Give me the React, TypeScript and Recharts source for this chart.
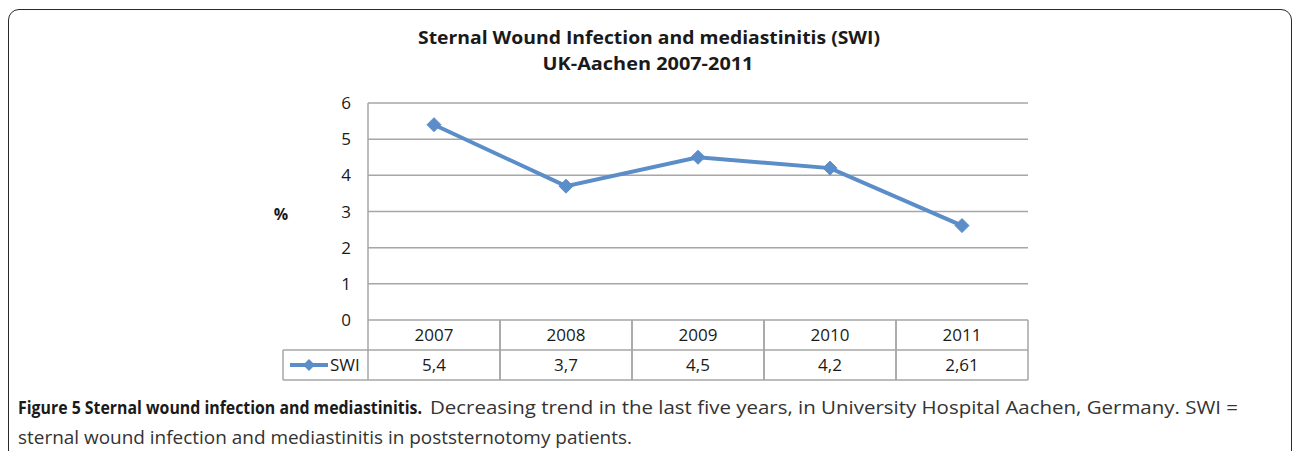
import React from 'react';
import { LineChart, Line, XAxis, YAxis, CartesianGrid } from 'recharts';

const categories = ['2007', '2008', '2009', '2010', '2011'];
const swiValues = [5.4, 3.7, 4.5, 4.2, 2.61];
const swiLabels = ['5,4', '3,7', '4,5', '4,2', '2,61'];
const yTicks = [0, 1, 2, 3, 4, 5, 6];
const seriesName = 'SWI';

const titleLines = ['Sternal Wound Infection and mediastinitis (SWI)', 'UK-Aachen 2007-2011'];
const captionBold = 'Figure 5 Sternal wound infection and mediastinitis.';
const captionRest1 = 'Decreasing trend in the last five years, in University Hospital Aachen, Germany. SWI =';
const captionRest2 = 'sternal wound infection and mediastinitis in poststernotomy patients.';

const data = categories.map((c, i) => ({ year: c, swi: swiValues[i], label: swiLabels[i] }));

const LINE_COLOR = '#5B8DC8';
const GRID_COLOR = '#A6A6A6';
const FONT = '"Open Sans", "DejaVu Sans", sans-serif';

const W = 1292;
const H = 451;
const PLOT_LEFT = 368;
const PLOT_RIGHT = 1028;
const PLOT_TOP = 103;
const PLOT_BOTTOM = 320;
const TABLE_H = 60;
const Y_AXIS_W = 40;
const PAD = 66;
const LEGEND_W = 85;
const TICK_FS = 17;

const bandW = (PLOT_RIGHT - PLOT_LEFT - 2 * PAD) / (categories.length - 1);

const Diamond = (props: any) => {
  const { cx, cy } = props;
  if (cx == null || cy == null) return null;
  const r = 7;
  return (
    <polygon
      points={`${cx},${cy - r} ${cx + r},${cy} ${cx},${cy + r} ${cx - r},${cy}`}
      fill={LINE_COLOR}
      stroke={LINE_COLOR}
      strokeWidth={1}
    />
  );
};

const XTick = (props: any) => {
  const { x, y, payload } = props;
  const idx = payload.index ?? categories.indexOf(payload.value);
  const left = x - bandW / 2;
  const right = x + bandW / 2;
  const rowH = TABLE_H / 2;
  const ls = { stroke: GRID_COLOR, strokeWidth: 1.5 };
  const lx = left - LEGEND_W;
  const ly = y + rowH + rowH / 2;
  return (
    <g>
      <line x1={left} y1={y} x2={left} y2={y + TABLE_H} {...ls} />
      <line x1={right} y1={y} x2={right} y2={y + TABLE_H} {...ls} />
      <line x1={left} y1={y + rowH} x2={right} y2={y + rowH} {...ls} />
      <line x1={left} y1={y + TABLE_H} x2={right} y2={y + TABLE_H} {...ls} />
      <text x={x} y={y + rowH / 2 + 6} textAnchor="middle" fontFamily={FONT} fontSize={TICK_FS} fill="#1a1a1a">
        {payload.value}
      </text>
      <text x={x} y={y + rowH + rowH / 2 + 6} textAnchor="middle" fontFamily={FONT} fontSize={TICK_FS} fill="#1a1a1a">
        {swiLabels[idx]}
      </text>
      {idx === 0 && (
        <g>
          <line x1={lx} y1={y + rowH} x2={left} y2={y + rowH} {...ls} />
          <line x1={lx} y1={y + TABLE_H} x2={left} y2={y + TABLE_H} {...ls} />
          <line x1={lx} y1={y + rowH} x2={lx} y2={y + TABLE_H} {...ls} />
          <line x1={lx + 7} y1={ly} x2={lx + 45} y2={ly} stroke={LINE_COLOR} strokeWidth={4} />
          <polygon
            points={`${lx + 26},${ly - 6} ${lx + 32},${ly} ${lx + 26},${ly + 6} ${lx + 20},${ly}`}
            fill={LINE_COLOR}
          />
          <text x={lx + 47} y={ly + 6} fontFamily={FONT} fontSize={TICK_FS} fill="#1a1a1a">
            {seriesName}
          </text>
        </g>
      )}
    </g>
  );
};

const YTick = (props: any) => {
  const { y, payload } = props;
  return (
    <text x={PLOT_LEFT - 22} y={y + 6} textAnchor="middle" fontFamily={FONT} fontSize={TICK_FS} fill="#1a1a1a">
      {payload.value}
    </text>
  );
};

export default function App() {
  return (
    <div style={{ position: 'fixed', left: 0, top: 0, width: W, height: H, background: '#fff', overflow: 'hidden' }}>
      <div
        style={{
          position: 'absolute',
          left: 8,
          top: 9,
          width: 1284,
          height: 470,
          border: '1.6px solid #2a2a2a',
          borderRadius: 11,
          boxSizing: 'border-box',
        }}
      />
      <div style={{ position: 'absolute', left: 0, top: 0 }}>
        <LineChart
          width={W}
          height={H}
          data={data}
          margin={{
            left: PLOT_LEFT - Y_AXIS_W,
            right: W - PLOT_RIGHT,
            top: PLOT_TOP,
            bottom: H - PLOT_BOTTOM - TABLE_H,
          }}
        >
          <CartesianGrid vertical={false} stroke={GRID_COLOR} strokeWidth={1.5} />
          <XAxis
            dataKey="year"
            type="category"
            padding={{ left: PAD, right: PAD }}
            height={TABLE_H}
            tickLine={false}
            axisLine={false}
            tickSize={0}
            tickMargin={0}
            interval={0}
            tick={<XTick />}
          />
          <YAxis
            width={Y_AXIS_W}
            domain={[0, 6]}
            ticks={yTicks}
            interval={0}
            tickLine={false}
            axisLine={{ stroke: GRID_COLOR, strokeWidth: 1.5 }}
            tick={<YTick />}
          />
          <Line
            dataKey="swi"
            name={seriesName}
            stroke={LINE_COLOR}
            strokeWidth={4}
            dot={<Diamond />}
            activeDot={false}
            isAnimationActive={false}
          />
        </LineChart>
      </div>
      <svg style={{ position: 'absolute', left: 0, top: 0 }} width={W} height={H}>
        <text x={649} y={44} textAnchor="middle" fontFamily={FONT} fontWeight={700} fontSize={18} fill="#1a1a1a"
          textLength={462} lengthAdjust="spacingAndGlyphs">
          {titleLines[0]}
        </text>
        <text x={648} y={70} textAnchor="middle" fontFamily={FONT} fontWeight={700} fontSize={18} fill="#1a1a1a"
          textLength={211} lengthAdjust="spacingAndGlyphs">
          {titleLines[1]}
        </text>
        <text x={281} y={220} textAnchor="middle" fontFamily={FONT} fontWeight={700} fontSize={16} fill="#1a1a1a">
          %
        </text>
        <text x={18} y={414} fontFamily={FONT} fontWeight={700} fontSize={18} fill="#1a1a1a"
          textLength={404} lengthAdjust="spacingAndGlyphs">
          {captionBold}
        </text>
        <text x={430} y={414} fontFamily={FONT} fontSize={18} fill="#333"
          textLength={808} lengthAdjust="spacingAndGlyphs">
          {captionRest1}
        </text>
        <text x={18} y={444} fontFamily={FONT} fontSize={18} fill="#333"
          textLength={614} lengthAdjust="spacingAndGlyphs">
          {captionRest2}
        </text>
      </svg>
    </div>
  );
}
